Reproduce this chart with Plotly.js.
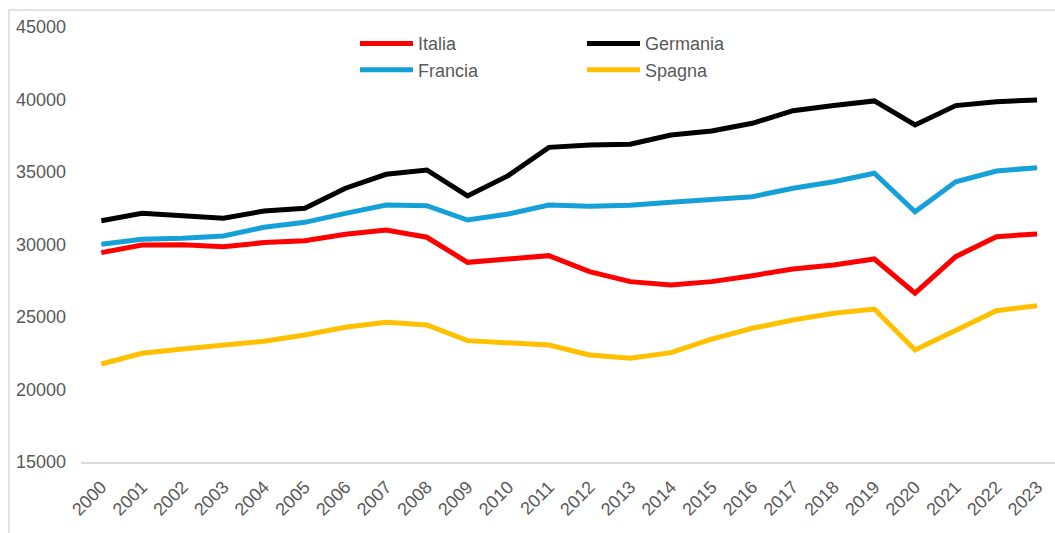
<!DOCTYPE html>
<html>
<head>
<meta charset="utf-8">
<script src="https://cdn.plot.ly/plotly-3.0.1.min.js"></script>
<style>
  html, body { margin: 0; padding: 0; background: #ffffff; }
  #chart { width: 1055px; height: 533px; }
</style>
</head>
<body>
<div id="chart"></div>
<script>
// ---- Data ----
const years = ["2000","2001","2002","2003","2004","2005","2006","2007","2008","2009","2010","2011",
               "2012","2013","2014","2015","2016","2017","2018","2019","2020","2021","2022","2023"];

const italia   = [29440, 29970, 29990, 29850, 30130, 30260, 30700, 31000, 30500, 28770, 29000, 29230,
                  28130, 27440, 27210, 27440, 27850, 28310, 28590, 29000, 26640, 29160, 30540, 30730];
const germania = [31640, 32150, 31990, 31810, 32310, 32500, 33880, 34840, 35140, 33350, 34750, 36700,
                  36860, 36910, 37550, 37830, 38360, 39230, 39580, 39900, 38240, 39580, 39850, 39970];
const francia  = [30010, 30360, 30430, 30590, 31190, 31530, 32150, 32720, 32680, 31690, 32100, 32720,
                  32630, 32700, 32910, 33070, 33300, 33880, 34330, 34910, 32260, 34330, 35070, 35300];
const spagna   = [21760, 22500, 22790, 23070, 23330, 23760, 24290, 24640, 24450, 23370, 23260, 23070,
                  22380, 22150, 22540, 23480, 24220, 24790, 25260, 25550, 22720, 24100, 25430, 25780];

const yTicks = [15000, 20000, 25000, 30000, 35000, 40000, 45000];

// ---- Styling ----
const FONT = "'Liberation Sans', Arial, sans-serif";
const TXT = "#595959";
const LW = 5;

function series(name, y, color, legendId) {
  return {
    type: "scatter", mode: "lines", name: name,
    x: years, y: y,
    line: { color: color, width: LW },
    legend: legendId,
    hoverinfo: "skip"
  };
}

const data = [
  series("Italia",   italia,   "#FF0000", "legend"),
  series("Germania", germania, "#000000", "legend2"),
  series("Francia",  francia,  "#15A0D8", "legend"),
  series("Spagna",   spagna,   "#FFC000", "legend2")
];

const legendCommon = {
  orientation: "v",
  xanchor: "left", yanchor: "top",
  bgcolor: "rgba(0,0,0,0)",
  borderwidth: 0,
  itemwidth: 53,
  tracegroupgap: 0,
  font: { family: FONT, size: 18, color: TXT },
  itemclick: false, itemdoubleclick: false
};

const layout = {
  width: 1055, height: 533,
  paper_bgcolor: "#ffffff", plot_bgcolor: "#ffffff",
  margin: { l: 81, r: 0, t: 27, b: 71, pad: 0 },
  font: { family: FONT, size: 18, color: TXT },
  showlegend: true,
  legend:  Object.assign({ x: 0.2813, y: 1.004 }, legendCommon),
  legend2: Object.assign({ x: 0.5144, y: 1.004 }, legendCommon),
  xaxis: {
    type: "category",
    range: [-0.5, 23.44],
    showgrid: false, zeroline: false,
    showline: true, linecolor: "#d9d9d9", linewidth: 1.5,
    ticks: "", tickangle: -45,
    ticklabelstandoff: 6,
    tickfont: { family: FONT, size: 18, color: TXT },
    fixedrange: true
  },
  yaxis: {
    range: [15000, 45000],
    tickvals: yTicks,
    ticktext: yTicks.map(String),
    showgrid: false, zeroline: false, showline: false,
    ticks: "",
    ticklabelstandoff: 14,
    tickfont: { family: FONT, size: 18, color: TXT },
    fixedrange: true
  },
  shapes: [{
    type: "rect", xref: "paper", yref: "paper",
    x0: -0.0739, x1: 1.05, y0: -0.2, y1: 1.039,
    line: { color: "#d9d9d9", width: 1.5 },
    fillcolor: "rgba(0,0,0,0)", layer: "below"
  }],
  hovermode: false
};

Plotly.newPlot("chart", data, layout, { displayModeBar: false, staticPlot: true });
</script>
</body>
</html>
